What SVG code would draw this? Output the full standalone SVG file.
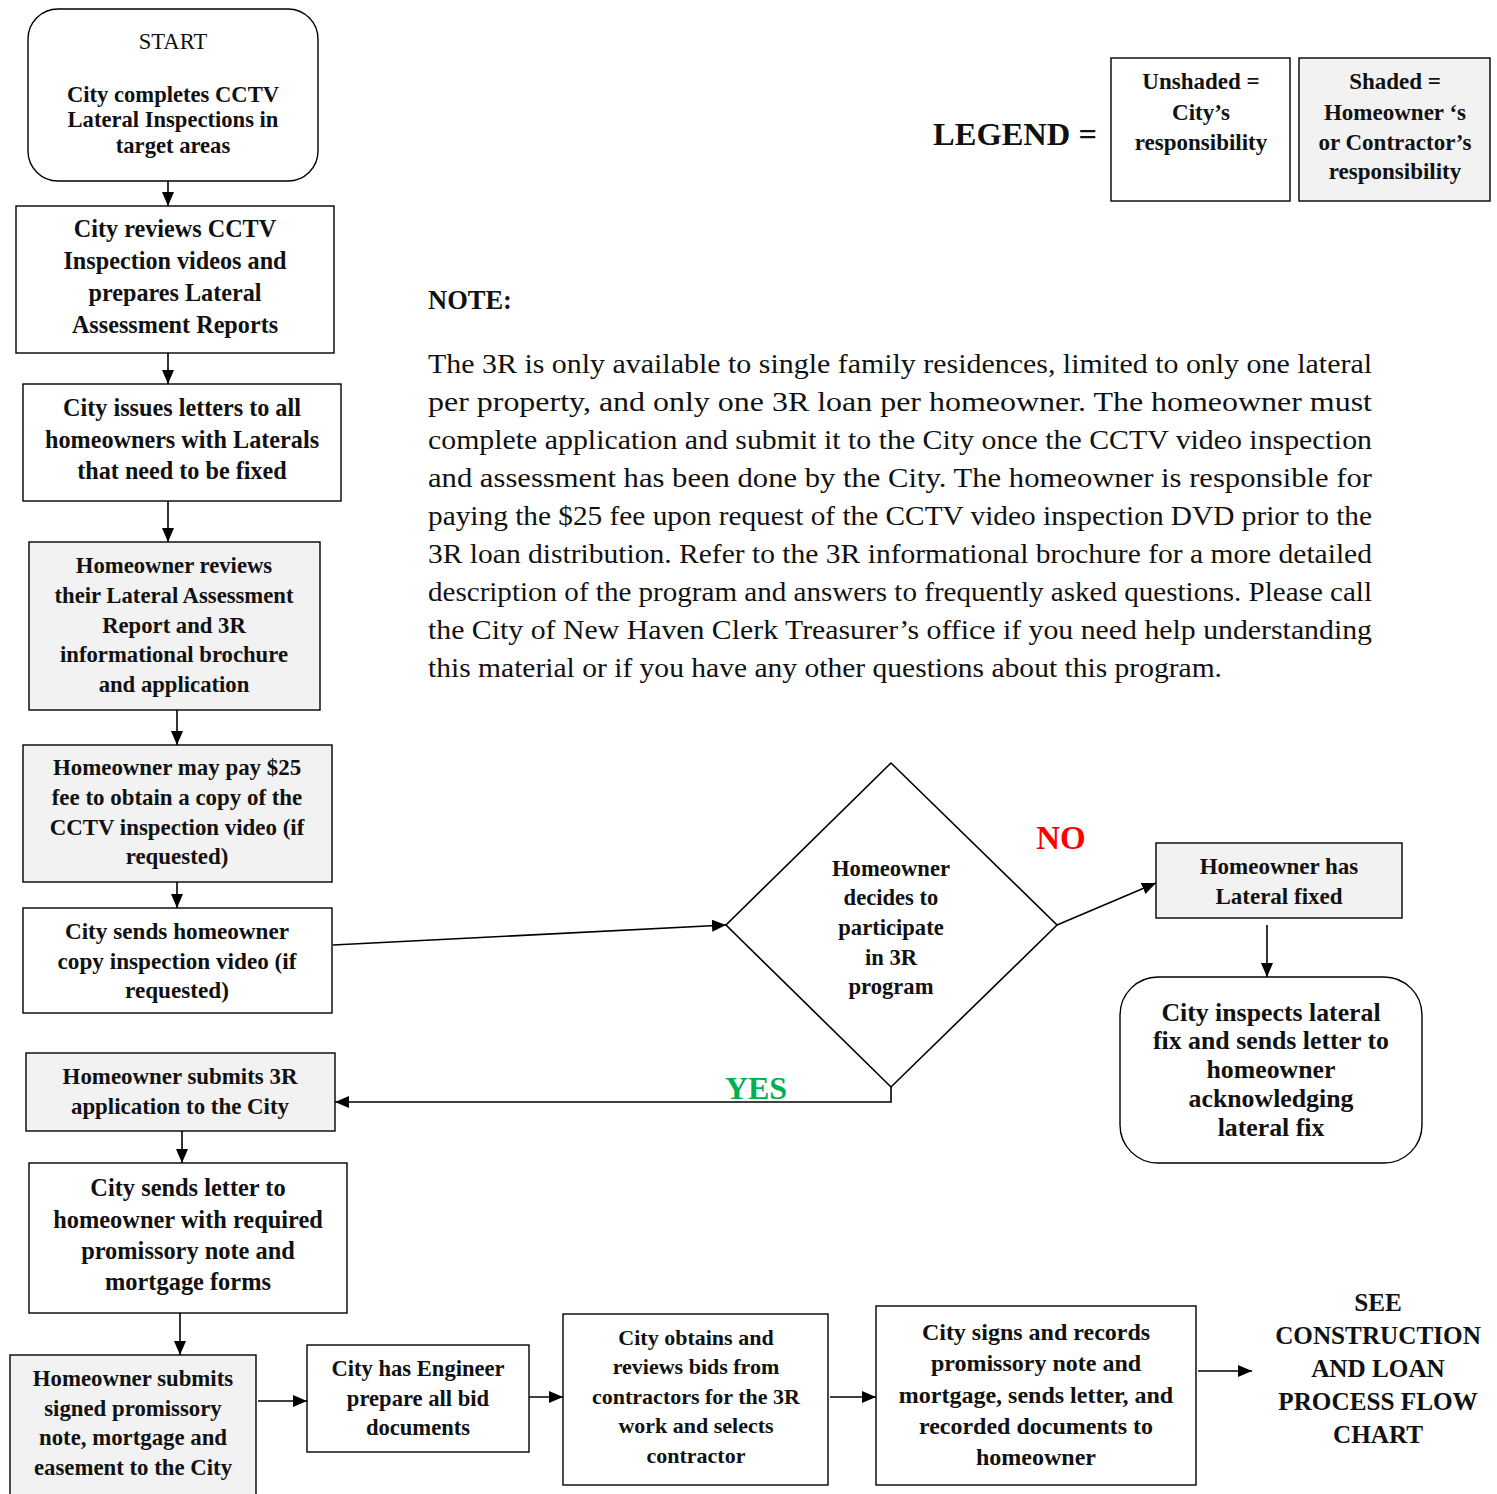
<svg xmlns="http://www.w3.org/2000/svg" width="1497" height="1494" viewBox="0 0 1497 1494">
<style>
.bx{fill:#fff;stroke:#000;stroke-width:1.4}
.sh{fill:#f2f2f2;stroke:#000;stroke-width:1.4}
.t{font-family:"Liberation Serif","DejaVu Serif",serif;font-weight:bold;text-anchor:middle;fill:#111}
.n{font-family:"Liberation Serif","DejaVu Serif",serif;fill:#111}
.c{fill:none;stroke:#000;stroke-width:1.6}
</style>
<defs>
<marker id="ah" markerWidth="14" markerHeight="12" refX="14" refY="6" orient="auto" markerUnits="userSpaceOnUse"><path d="M0,0 L14,6 L0,12 z" fill="#000"/></marker>
</defs>
<rect width="1497" height="1494" fill="#fff"/>

<g id="connectors">
<line class="c" x1="168" y1="181" x2="168" y2="206" marker-end="url(#ah)"/>
<line class="c" x1="168" y1="353" x2="168" y2="384" marker-end="url(#ah)"/>
<line class="c" x1="168" y1="501" x2="168" y2="542" marker-end="url(#ah)"/>
<line class="c" x1="177" y1="710" x2="177" y2="745" marker-end="url(#ah)"/>
<line class="c" x1="177" y1="882" x2="177" y2="908" marker-end="url(#ah)"/>
<line class="c" x1="333" y1="945" x2="726" y2="925" marker-end="url(#ah)"/>
<polyline class="c" points="891,1087 891,1102 335,1102" marker-end="url(#ah)"/>
<line class="c" x1="1057" y1="925" x2="1156" y2="883" marker-end="url(#ah)"/>
<line class="c" x1="1267" y1="925" x2="1267" y2="977" marker-end="url(#ah)"/>
<line class="c" x1="182" y1="1131" x2="182" y2="1163" marker-end="url(#ah)"/>
<line class="c" x1="180" y1="1313" x2="180" y2="1355" marker-end="url(#ah)"/>
<line class="c" x1="258" y1="1401" x2="307" y2="1401" marker-end="url(#ah)"/>
<line class="c" x1="529" y1="1397" x2="563" y2="1397" marker-end="url(#ah)"/>
<line class="c" x1="830" y1="1397" x2="876" y2="1397" marker-end="url(#ah)"/>
<line class="c" x1="1198" y1="1371" x2="1252" y2="1371" marker-end="url(#ah)"/>
</g>

<g id="start" font-size="22.6">
<rect class="bx" x="28" y="9" width="290" height="172" rx="30" stroke-width="1.8"/>
<text class="t" x="173" y="49" style="font-weight:normal">START</text>
<text class="t" x="173" y="102">City completes CCTV</text>
<text class="t" x="173" y="127">Lateral Inspections in</text>
<text class="t" x="173" y="153">target areas</text>
</g>

<g id="review" font-size="24.2">
<rect class="bx" x="16" y="206" width="318" height="147"/>
<text class="t" x="175" y="237">City reviews CCTV</text>
<text class="t" x="175" y="269">Inspection videos and</text>
<text class="t" x="175" y="301">prepares Lateral</text>
<text class="t" x="175" y="333">Assessment Reports</text>
</g>

<g id="letters" font-size="24.2">
<rect class="bx" x="23" y="384" width="318" height="117"/>
<text class="t" x="182" y="416">City issues letters to all</text>
<text class="t" x="182" y="448">homeowners with Laterals</text>
<text class="t" x="182" y="479">that need to be fixed</text>
</g>

<g id="hreview" font-size="22.7">
<rect class="sh" x="29" y="542" width="291" height="168" stroke-width="2.2"/>
<text class="t" x="174" y="573">Homeowner reviews</text>
<text class="t" x="174" y="603">their Lateral Assessment</text>
<text class="t" x="174" y="633">Report and 3R</text>
<text class="t" x="174" y="662">informational brochure</text>
<text class="t" x="174" y="692">and application</text>
</g>

<g id="pay" font-size="22.9">
<rect class="sh" x="23" y="745" width="309" height="137"/>
<text class="t" x="177" y="775">Homeowner may pay $25</text>
<text class="t" x="177" y="805">fee to obtain a copy of the</text>
<text class="t" x="177" y="835">CCTV inspection video (if</text>
<text class="t" x="177" y="864">requested)</text>
</g>

<g id="sendvideo" font-size="23.2">
<rect class="bx" x="23" y="908" width="309" height="105"/>
<text class="t" x="177" y="939">City sends homeowner</text>
<text class="t" x="177" y="969">copy inspection video (if</text>
<text class="t" x="177" y="998">requested)</text>
</g>

<g id="decision" font-size="22.6">
<polygon points="891,763 1057,925 891,1087 726,925" fill="#fff" stroke="#000" stroke-width="1.6"/>
<text class="t" x="891" y="876">Homeowner</text>
<text class="t" x="891" y="905">decides to</text>
<text class="t" x="891" y="935">participate</text>
<text class="t" x="891" y="965">in 3R</text>
<text class="t" x="891" y="994">program</text>
</g>

<text class="t" x="1061" y="849" font-size="33" style="fill:#ff0000">NO</text>
<text class="t" x="756" y="1099" font-size="32" style="fill:#00b050">YES</text>

<g id="fixed" font-size="23">
<rect class="sh" x="1156" y="843" width="246" height="75"/>
<text class="t" x="1279" y="874">Homeowner has</text>
<text class="t" x="1279" y="904">Lateral fixed</text>
</g>

<g id="inspect" font-size="25.8">
<rect class="bx" x="1120" y="977" width="302" height="186" rx="38" stroke-width="1.8"/>
<text class="t" x="1271" y="1021">City inspects lateral</text>
<text class="t" x="1271" y="1049">fix and sends letter to</text>
<text class="t" x="1271" y="1078">homeowner</text>
<text class="t" x="1271" y="1107">acknowledging</text>
<text class="t" x="1271" y="1136">lateral fix</text>
</g>

<g id="submit" font-size="22.9">
<rect class="sh" x="26" y="1053" width="309" height="78"/>
<text class="t" x="180" y="1084">Homeowner submits 3R</text>
<text class="t" x="180" y="1114">application to the City</text>
</g>

<g id="sendletter" font-size="24.4">
<rect class="bx" x="29" y="1163" width="318" height="150"/>
<text class="t" x="188" y="1196">City sends letter to</text>
<text class="t" x="188" y="1228">homeowner with required</text>
<text class="t" x="188" y="1259">promissory note and</text>
<text class="t" x="188" y="1290">mortgage forms</text>
</g>

<g id="signed" font-size="22.8">
<rect class="sh" x="10" y="1355" width="246" height="145"/>
<text class="t" x="133" y="1386">Homeowner submits</text>
<text class="t" x="133" y="1416">signed promissory</text>
<text class="t" x="133" y="1445">note, mortgage and</text>
<text class="t" x="133" y="1475">easement to the City</text>
</g>

<g id="engineer" font-size="22.6">
<rect class="bx" x="307" y="1345" width="222" height="107"/>
<text class="t" x="418" y="1376">City has Engineer</text>
<text class="t" x="418" y="1406">prepare all bid</text>
<text class="t" x="418" y="1435">documents</text>
</g>

<g id="bids" font-size="22">
<rect class="bx" x="563" y="1314" width="265" height="171"/>
<text class="t" x="696" y="1345">City obtains and</text>
<text class="t" x="696" y="1374">reviews bids from</text>
<text class="t" x="696" y="1404">contractors for the 3R</text>
<text class="t" x="696" y="1433">work and selects</text>
<text class="t" x="696" y="1463">contractor</text>
</g>

<g id="records" font-size="24">
<rect class="bx" x="876" y="1306" width="320" height="179"/>
<text class="t" x="1036" y="1340">City signs and records</text>
<text class="t" x="1036" y="1371">promissory note and</text>
<text class="t" x="1036" y="1403">mortgage, sends letter, and</text>
<text class="t" x="1036" y="1434">recorded documents to</text>
<text class="t" x="1036" y="1465">homeowner</text>
</g>

<g id="see" font-size="25.2">
<text class="t" x="1378" y="1311">SEE</text>
<text class="t" x="1378" y="1344">CONSTRUCTION</text>
<text class="t" x="1378" y="1377">AND LOAN</text>
<text class="t" x="1378" y="1410">PROCESS FLOW</text>
<text class="t" x="1378" y="1443">CHART</text>
</g>

<g id="legend" font-size="23">
<text class="t" x="1015" y="145" font-size="32.5">LEGEND =</text>
<rect class="bx" x="1111" y="58" width="179" height="143"/>
<text class="t" x="1201" y="89">Unshaded =</text>
<text class="t" x="1201" y="120">City’s</text>
<text class="t" x="1201" y="150">responsibility</text>
<rect class="sh" x="1299" y="58" width="191" height="143"/>
<text class="t" x="1395" y="89">Shaded =</text>
<text class="t" x="1395" y="120">Homeowner ‘s</text>
<text class="t" x="1395" y="150">or Contractor’s</text>
<text class="t" x="1395" y="179">responsibility</text>
</g>

<g id="note" font-size="27">
<text class="n" x="428" y="309" font-weight="bold" font-size="26.5">NOTE:</text>
<text class="n" x="428" y="373" textLength="944" lengthAdjust="spacingAndGlyphs">The 3R is only available to single family residences, limited to only one lateral</text>
<text class="n" x="428" y="411" textLength="944" lengthAdjust="spacingAndGlyphs">per property, and only one 3R loan per homeowner. The homeowner must</text>
<text class="n" x="428" y="449" textLength="944" lengthAdjust="spacingAndGlyphs">complete application and submit it to the City once the CCTV video inspection</text>
<text class="n" x="428" y="487" textLength="944" lengthAdjust="spacingAndGlyphs">and assessment has been done by the City. The homeowner is responsible for</text>
<text class="n" x="428" y="525" textLength="944" lengthAdjust="spacingAndGlyphs">paying the $25 fee upon request of the CCTV video inspection DVD prior to the</text>
<text class="n" x="428" y="563" textLength="944" lengthAdjust="spacingAndGlyphs">3R loan distribution. Refer to the 3R informational brochure for a more detailed</text>
<text class="n" x="428" y="601" textLength="944" lengthAdjust="spacingAndGlyphs">description of the program and answers to frequently asked questions. Please call</text>
<text class="n" x="428" y="639" textLength="944" lengthAdjust="spacingAndGlyphs">the City of New Haven Clerk Treasurer’s office if you need help understanding</text>
<text class="n" x="428" y="677" textLength="794" lengthAdjust="spacingAndGlyphs">this material or if you have any other questions about this program.</text>
</g>
</svg>
